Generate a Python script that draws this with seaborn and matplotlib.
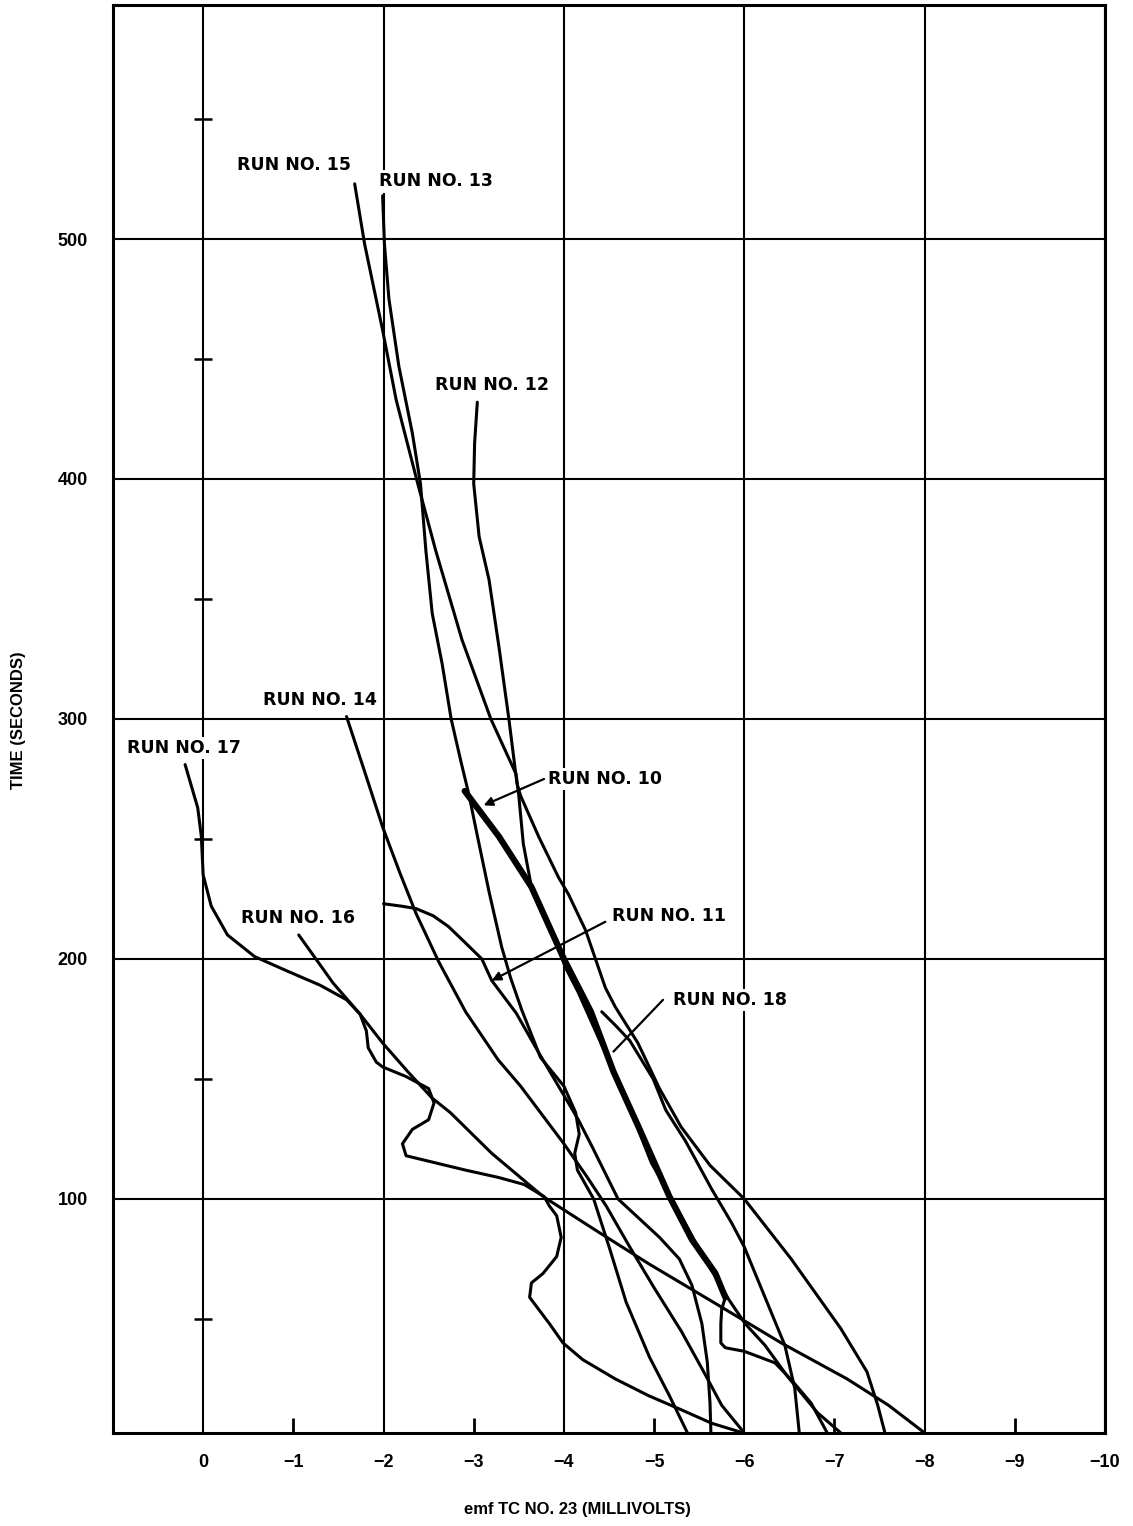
import matplotlib
matplotlib.use('Agg')
import matplotlib.pyplot as plt
import pandas as pd
import seaborn as sns

# emf (mV) / time (s), one pair of lists per run
run10_x = [-2.90, -3.02, -3.28, -3.64, -3.94, -4.00, -4.30, -4.55, -4.84, -5.17, -5.42, -5.68, -5.79,
           -5.75, -5.74, -5.74, -5.79, -6.00, -6.34, -6.52, -6.74, -6.92]
run10_y = [270, 264, 251, 230, 205, 200, 178, 153, 129, 101, 83, 69, 59,
           54, 48, 40, 38, 36.5, 31.7, 24.7, 15, 2.5]

run11_x = [-2.00, -2.20, -2.36, -2.55, -2.72, -2.90, -3.09, -3.20, -3.47, -3.72, -3.94, -4.16, -4.31,
           -4.60, -5.06, -5.28, -5.42, -5.53, -5.59, -5.62, -5.63]
run11_y = [223, 222, 221, 218, 213.5, 207, 200, 191, 177.5, 161, 147, 133, 122,
           100, 84, 75, 64, 48, 32, 15, 2.5]

run12_x = [-3.04, -3.01, -3.00, -3.06, -3.17, -3.28, -3.39, -3.48, -3.52, -3.72, -3.94, -4.05, -4.24,
           -4.35, -4.46, -4.57, -4.82, -5.06, -5.30, -5.62, -6.00, -6.52, -7.07, -7.36, -7.48, -7.56]
run12_y = [432, 415, 398, 376, 358, 330, 300, 273, 268, 251, 234, 227, 212,
           200, 188, 180, 165, 146, 130, 114, 100, 75, 46, 28, 14, 2.5]

run13_x = [-1.99, -2.01, -2.06, -2.17, -2.32, -2.41, -2.47, -2.54, -2.65, -2.75, -2.86, -2.95, -3.02,
           -3.17, -3.31, -3.41, -3.53, -3.74, -4.00, -4.13, -4.17, -4.12, -4.15, -4.33, -4.51, -4.69,
           -4.95, -5.17, -5.37]
run13_y = [518, 498, 475, 447, 419, 398, 370, 344, 323, 300, 282, 268, 255,
           228, 205, 192, 179, 159, 147, 136, 127, 119, 112, 100, 79, 57,
           34, 18, 2.5]

run14_x = [-1.59, -1.80, -1.99, -2.18, -2.36, -2.61, -2.91, -3.27, -3.52, -3.78, -4.00, -4.26, -4.47,
           -4.73, -5.00, -5.30, -5.55, -5.75, -6.00]
run14_y = [301, 277, 255, 236, 219, 199, 178, 158, 147, 134, 123, 109, 97,
           80, 63, 45, 28, 14, 2.5]

run15_x = [-1.68, -1.79, -1.99, -2.14, -2.38, -2.58, -2.87, -3.19, -3.47, -3.50, -3.55, -3.64, -3.80,
           -3.92, -4.01, -4.16, -4.35, -4.53, -4.75, -4.97, -5.20, -5.50, -5.83, -6.01, -6.23, -6.48,
           -6.81, -7.07]
run15_y = [523, 498, 462, 433, 398, 370, 333, 300, 277, 268, 248, 230, 217,
           207, 197, 186, 170, 155, 136, 115, 100, 79, 58, 48, 39, 26,
           11, 2.5]

run16_x = [-1.06, -1.44, -1.74, -1.99, -2.27, -2.54, -2.74, -3.20, -3.77, -4.35, -4.94, -5.70, -6.41,
           -7.14, -7.60, -8.00]
run16_y = [210, 190, 177, 165, 153, 142, 136, 119, 101, 87, 73, 56, 40,
           25, 14, 2.5]

run17_x = [0.20, 0.06, 0.02, 0.0, -0.09, -0.27, -0.57, -0.93, -1.30, -1.59, -1.74, -1.81, -1.83,
           -1.92, -1.99, -2.25, -2.50, -2.56, -2.50, -2.32, -2.21, -2.25, -2.47, -2.91, -3.27, -3.56,
           -3.78, -3.84, -3.92, -3.97, -3.92, -3.77, -3.64, -3.62, -3.70, -3.84, -3.99, -4.21, -4.57,
           -4.94, -5.31, -5.64, -5.99]
run17_y = [281, 263, 251, 235, 222, 210, 201, 195, 189, 183, 177, 170, 163,
           157, 155, 151, 146, 140, 133, 129, 123, 118, 116, 112, 109, 106,
           101, 97, 93, 84, 76, 69, 65, 59, 55, 48, 40, 33, 25,
           18, 12, 6.5, 2.5]

run18_x = [-4.42, -4.58, -4.73, -4.99, -5.13, -5.35, -5.64, -5.86, -6.00, -6.23, -6.45, -6.56, -6.61]
run18_y = [178, 172, 166, 150, 137, 124, 104, 90, 80, 59, 39, 21, 2.5]

# run labels: text, label centre, optional leader (tail -> tip)
label_names = ['RUN NO. 15', 'RUN NO. 13', 'RUN NO. 12', 'RUN NO. 14', 'RUN NO. 17',
               'RUN NO. 10', 'RUN NO. 16', 'RUN NO. 11', 'RUN NO. 18']
label_x = [-1.01, -2.58, -3.20, -1.30, 0.21, -4.46, -1.05, -5.16, -5.84]
label_y = [531, 524, 439, 308, 288, 275, 217, 218, 183]

leader_tail = {'RUN NO. 10': (-3.78, 275), 'RUN NO. 11': (-4.46, 215.5), 'RUN NO. 18': (-5.10, 183)}
leader_tip = {'RUN NO. 10': (-3.11, 264), 'RUN NO. 11': (-3.20, 191), 'RUN NO. 18': (-4.55, 161.4)}

x_major = [0, -2, -4, -6, -8, -10]
x_minor = [-1, -3, -5, -7, -9]
y_major = [100, 200, 300, 400, 500]
zero_line_ticks = [50, 150, 250, 350, 450, 550]

runs = {
    '10': (run10_x, run10_y), '11': (run11_x, run11_y), '12': (run12_x, run12_y),
    '13': (run13_x, run13_y), '14': (run14_x, run14_y), '15': (run15_x, run15_y),
    '16': (run16_x, run16_y), '17': (run17_x, run17_y), '18': (run18_x, run18_y),
}
df = pd.concat([pd.DataFrame({'emf': x, 'time': y, 'run': name}) for name, (x, y) in runs.items()],
               ignore_index=True)

sns.set_theme(style='white')
plt.rcParams['font.family'] = ['DejaVu Sans']
plt.rcParams['lines.solid_joinstyle'] = 'round'

fig = plt.figure(figsize=(11.33, 15.26), dpi=100)
ax = fig.add_axes([0.0997, 0.061, 0.8756, 0.9357])

sns.lineplot(data=df, x='emf', y='time', units='run', estimator=None, sort=False,
             color='black', lw=2.2, ax=ax, legend=False)

# run 10 is drawn heavy over most of its length
heavy = df[(df['run'] == '10') & (df['time'] >= 58)]
sns.lineplot(data=heavy, x='emf', y='time', estimator=None, sort=False,
             color='black', lw=4.5, ax=ax, legend=False)

ax.set_xlim(1, -10)
ax.set_ylim(2.5, 597.5)

tick_font = dict(family='Liberation Sans', weight='bold', size=13)
ax.set_xticks(x_major, labels=['0' if v == 0 else f'\u2212{abs(v)}' for v in x_major])
ax.set_xticks(x_minor, labels=[f'\u2212{abs(v)}' for v in x_minor], minor=True)
ax.set_yticks(y_major, labels=[str(v) for v in y_major])
for lbl in ax.get_xticklabels(which='both') + ax.get_yticklabels():
    lbl.set_fontproperties(tick_font)

ax.tick_params(axis='x', which='major', length=0, pad=15, colors='black')
ax.tick_params(axis='x', which='minor', direction='in', length=11, width=2, pad=15,
               color='black', labelcolor='black', bottom=True)
ax.tick_params(axis='y', length=0, pad=18, labelcolor='black')

ax.grid(True, which='major', color='black', lw=1.5)
ax.set_axisbelow(True)
for sp in ax.spines.values():
    sp.set_color('black')
    sp.set_linewidth(2.2)

# little cross ticks on the zero line
ax.plot([0] * len(zero_line_ticks), zero_line_ticks, ls='none', marker='_',
        ms=13, mew=1.8, color='black')

ax.set_xlabel('')
ax.set_ylabel('')

for name, lx, ly in zip(label_names, label_x, label_y):
    ax.text(lx, ly, name, ha='center', va='center', fontsize=12.5, fontweight='bold',
            color='black', zorder=6,
            bbox=dict(facecolor='white', edgecolor='none', pad=1.5))
    if name in leader_tail:
        style = '-' if name == 'RUN NO. 18' else '-|>'
        ax.annotate('', xy=leader_tip[name], xytext=leader_tail[name], zorder=6,
                    arrowprops=dict(arrowstyle=style, color='black', lw=1.6,
                                    mutation_scale=13, shrinkA=0, shrinkB=0))

fig.text(0.51, 0.0105, 'emf TC NO. 23 (MILLIVOLTS)', ha='center', va='center',
         family='Liberation Sans', weight='bold', size=12, color='black')
fig.text(0.016, 0.528, 'TIME (SECONDS)', ha='center', va='center', rotation=90,
         family='Liberation Sans', weight='bold', size=12, color='black')

fig.savefig('out.png', dpi=100)
